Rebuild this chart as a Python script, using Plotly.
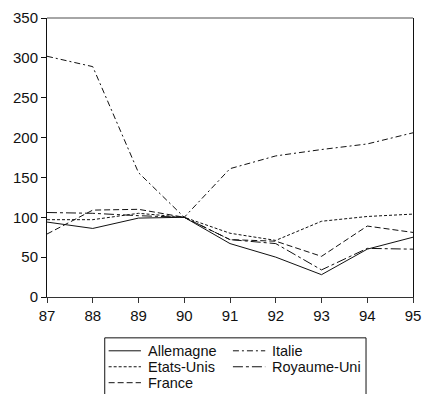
import plotly.graph_objects as go

# Index values, base 1990 = 100
years = [87, 88, 89, 90, 91, 92, 93, 94, 95]
year_labels = ["87", "88", "89", "90", "91", "92", "93", "94", "95"]

allemagne = [94, 86, 99, 100, 67, 50, 28, 60, 75]
italie = [302, 289, 156, 100, 161, 177, 185, 192, 206]
etats_unis = [97, 97, 105, 100, 80, 71, 95, 101, 104]
royaume_uni = [106, 105, 102, 100, 72, 67, 34, 61, 60]
france = [79, 109, 110, 100, 72, 70, 51, 89, 81]

series_names = ["Allemagne", "Italie", "Etats-Unis", "Royaume-Uni", "France"]
series_values = [allemagne, italie, etats_unis, royaume_uni, france]
series_dash = ["solid", "6px,3px,2px,3px", "3px,2px", "10px,3px,3px,3px", "6px,3px"]

FONT = "Liberation Sans, Arial, sans-serif"
W, H = 430, 394
ML, MR, MT, MB = 47, 9, 17, 97
PW, PH = W - ML - MR, H - MT - MB


def px_x(px):
    return (px - ML) / PW


def px_y(py):
    return (H - MB - py) / PH


fig = go.Figure()
for name, vals, dash in zip(series_names, series_values, series_dash):
    fig.add_trace(go.Scatter(
        x=years, y=vals, name=name, mode="lines",
        line=dict(color="#111", width=1, dash=dash),
        showlegend=False,
    ))

shapes = []
annotations = []

# top frame line
shapes.append(dict(type="line", xref="paper", yref="paper", x0=0, x1=1, y0=1, y1=1,
                   line=dict(color="#888", width=1.5)))

# legend box below the plot (two columns)
shapes.append(dict(type="rect", xref="paper", yref="paper",
                   x0=px_x(106), x1=px_x(373), y0=px_y(338), y1=px_y(410),
                   line=dict(color="#111", width=1), fillcolor="rgba(0,0,0,0)"))
col_x = [110, 237]
row_y = [351, 367, 383]
for i, (name, dash) in enumerate(zip(series_names, series_dash)):
    c, r = i % 2, i // 2
    x0 = col_x[c]
    y = row_y[r]
    shapes.append(dict(type="line", xref="paper", yref="paper",
                       x0=px_x(x0), x1=px_x(x0 + 33), y0=px_y(y), y1=px_y(y),
                       line=dict(color="#111", width=1, dash=dash)))
    annotations.append(dict(text=name, xref="paper", yref="paper",
                            x=px_x(x0 + 39), y=px_y(y), xanchor="left", yanchor="middle",
                            borderpad=0,
                            showarrow=False, font=dict(family=FONT, size=14.5, color="#111")))

fig.update_layout(
    width=W, height=H,
    margin=dict(l=ML, r=MR, t=MT, b=MB),
    paper_bgcolor="white", plot_bgcolor="white",
    font=dict(family=FONT, size=15, color="#111"),
    shapes=shapes, annotations=annotations,
    xaxis=dict(range=[87, 95], tickvals=years, ticktext=year_labels,
               ticks="outside", ticklen=5, tickcolor="#333",
               showline=True, linecolor="#333", linewidth=1,
               showgrid=False, zeroline=False, tickfont=dict(size=15)),
    yaxis=dict(range=[0, 350], dtick=50, tick0=0,
               ticks="outside", ticklen=5, tickcolor="#111",
               showline=True, linecolor="#111", linewidth=1, mirror=True,
               showgrid=False, zeroline=False, tickfont=dict(size=15)),
)

fig.write_html("out.html")
